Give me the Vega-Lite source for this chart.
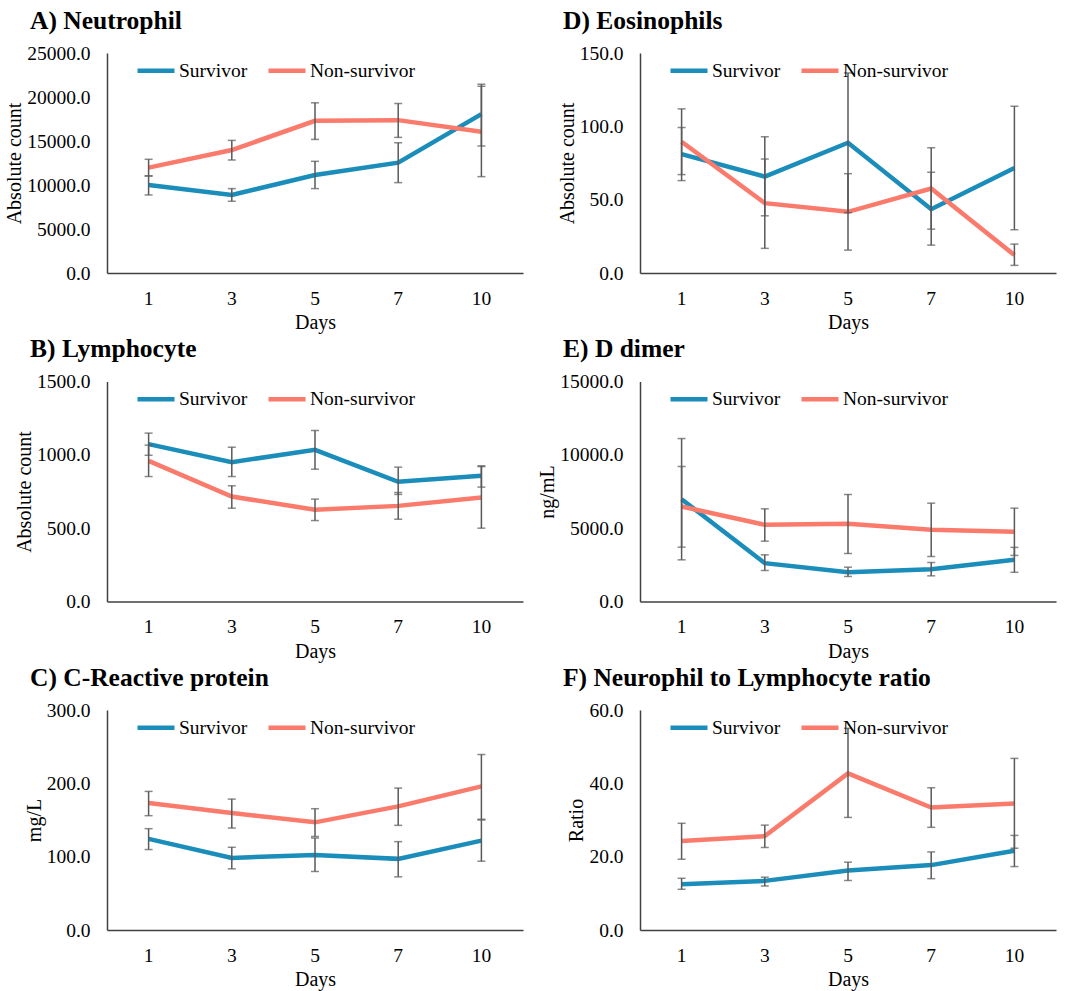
{
  "$schema": "https://vega.github.io/schema/vega-lite/v6.json",
  "padding": {"left": 4, "top": 8, "right": 5, "bottom": 5},
  "bounds": "flush",
  "spacing": {"row": 108.5, "column": 117},
  "columns": 2,
  "resolve": {"scale": {"color": "independent"}, "legend": {"color": "independent"}},
  "config": {
    "font": "Liberation Serif",
    "view": {"stroke": null},
    "style": {"guide-label": {"font": "Liberation Serif", "fontSize": 19.5, "fill": "#000000"}, "guide-title": {"font": "Liberation Serif", "fontSize": 20, "fontWeight": "normal", "fill": "#000000"}},
    "axis": {"grid": false, "ticks": false, "domainColor": "#404040", "domainWidth": 1.5, "labelFont": "Liberation Serif", "labelFontSize": 19.5, "labelColor": "#000000", "titleFont": "Liberation Serif", "titleFontSize": 20, "titleFontWeight": "normal", "titleColor": "#000000"},
    "axisX": {"labelAngle": 0, "labelPadding": 16, "titlePadding": 5, "labelFont": "Liberation Serif", "titleFont": "Liberation Serif"},
    "axisY": {"labelPadding": 17, "titlePadding": 2, "format": ".1f", "labelFont": "Liberation Serif", "titleFont": "Liberation Serif"},
    "title": {"font": "Liberation Serif", "fontSize": 25.5, "fontWeight": "bold", "anchor": "start", "frame": "group", "dx": -77, "color": "#000000", "offset": 9},
    "legend": {"orient": "none", "legendX": 28, "legendY": -3.5, "direction": "horizontal", "title": null, "symbolType": "stroke", "symbolSize": 1369, "symbolStrokeWidth": 4.5, "labelFont": "Liberation Serif", "labelFontSize": 19.5, "labelColor": "#000000", "labelOffset": 2, "columnPadding": 11, "padding": 0}
  },
  "datasets": {
    "A": [
      {"day": "1", "group": "Survivor", "mean": 10000, "lo": 8870, "hi": 11030},
      {"day": "3", "group": "Survivor", "mean": 8870, "lo": 8150, "hi": 9590},
      {"day": "5", "group": "Survivor", "mean": 11140, "lo": 9590, "hi": 12690},
      {"day": "7", "group": "Survivor", "mean": 12540, "lo": 10270, "hi": 14800},
      {"day": "10", "group": "Survivor", "mean": 18050, "lo": 14430, "hi": 21450},
      {"day": "1", "group": "Non-survivor", "mean": 11970, "lo": 11030, "hi": 12920},
      {"day": "3", "group": "Non-survivor", "mean": 13970, "lo": 12840, "hi": 15070},
      {"day": "5", "group": "Non-survivor", "mean": 17300, "lo": 15180, "hi": 19340},
      {"day": "7", "group": "Non-survivor", "mean": 17370, "lo": 15410, "hi": 19260},
      {"day": "10", "group": "Non-survivor", "mean": 16050, "lo": 10950, "hi": 21220}
    ],
    "D": [
      {"day": "1", "group": "Survivor", "mean": 81.1, "lo": 63.0, "hi": 99.2},
      {"day": "3", "group": "Survivor", "mean": 65.7, "lo": 39.0, "hi": 92.9},
      {"day": "5", "group": "Survivor", "mean": 88.8, "lo": 41.2, "hi": 136.4},
      {"day": "7", "group": "Survivor", "mean": 43.5, "lo": 19.0, "hi": 68.7},
      {"day": "10", "group": "Survivor", "mean": 71.6, "lo": 29.5, "hi": 113.7},
      {"day": "1", "group": "Non-survivor", "mean": 89.5, "lo": 67.1, "hi": 111.9},
      {"day": "3", "group": "Non-survivor", "mean": 47.6, "lo": 16.8, "hi": 77.7},
      {"day": "5", "group": "Non-survivor", "mean": 41.7, "lo": 15.6, "hi": 67.7},
      {"day": "7", "group": "Non-survivor", "mean": 57.6, "lo": 29.9, "hi": 85.4},
      {"day": "10", "group": "Non-survivor", "mean": 12.2, "lo": 5.2, "hi": 19.7}
    ],
    "B": [
      {"day": "1", "group": "Survivor", "mean": 1073, "lo": 997, "hi": 1148},
      {"day": "3", "group": "Survivor", "mean": 950, "lo": 852, "hi": 1052},
      {"day": "5", "group": "Survivor", "mean": 1034, "lo": 902, "hi": 1166},
      {"day": "7", "group": "Survivor", "mean": 816, "lo": 730, "hi": 916},
      {"day": "10", "group": "Survivor", "mean": 857, "lo": 780, "hi": 925},
      {"day": "1", "group": "Non-survivor", "mean": 959, "lo": 852, "hi": 1066},
      {"day": "3", "group": "Non-survivor", "mean": 716, "lo": 636, "hi": 789},
      {"day": "5", "group": "Non-survivor", "mean": 625, "lo": 552, "hi": 698},
      {"day": "7", "group": "Non-survivor", "mean": 652, "lo": 561, "hi": 743},
      {"day": "10", "group": "Non-survivor", "mean": 709, "lo": 500, "hi": 920}
    ],
    "E": [
      {"day": "1", "group": "Survivor", "mean": 6977, "lo": 2840, "hi": 11110},
      {"day": "3", "group": "Survivor", "mean": 2614, "lo": 2114, "hi": 3182},
      {"day": "5", "group": "Survivor", "mean": 2000, "lo": 1705, "hi": 2341},
      {"day": "7", "group": "Survivor", "mean": 2205, "lo": 1750, "hi": 2659},
      {"day": "10", "group": "Survivor", "mean": 2841, "lo": 1990, "hi": 3690},
      {"day": "1", "group": "Non-survivor", "mean": 6477, "lo": 3705, "hi": 9205},
      {"day": "3", "group": "Non-survivor", "mean": 5227, "lo": 4114, "hi": 6318},
      {"day": "5", "group": "Non-survivor", "mean": 5295, "lo": 3273, "hi": 7295},
      {"day": "7", "group": "Non-survivor", "mean": 4886, "lo": 3068, "hi": 6705},
      {"day": "10", "group": "Non-survivor", "mean": 4750, "lo": 3140, "hi": 6364}
    ],
    "C": [
      {"day": "1", "group": "Survivor", "mean": 124.2, "lo": 109.7, "hi": 138.2},
      {"day": "3", "group": "Survivor", "mean": 98.3, "lo": 83.4, "hi": 112.8},
      {"day": "5", "group": "Survivor", "mean": 102.4, "lo": 79.8, "hi": 125.4},
      {"day": "7", "group": "Survivor", "mean": 97.0, "lo": 72.5, "hi": 120.5},
      {"day": "10", "group": "Survivor", "mean": 121.9, "lo": 93.8, "hi": 150.0},
      {"day": "1", "group": "Non-survivor", "mean": 173.1, "lo": 155.9, "hi": 189.0},
      {"day": "3", "group": "Non-survivor", "mean": 159.5, "lo": 139.0, "hi": 178.5},
      {"day": "5", "group": "Non-survivor", "mean": 146.8, "lo": 127.5, "hi": 165.4},
      {"day": "7", "group": "Non-survivor", "mean": 168.6, "lo": 142.7, "hi": 193.5},
      {"day": "10", "group": "Non-survivor", "mean": 195.8, "lo": 151.0, "hi": 239.3}
    ],
    "F": [
      {"day": "1", "group": "Survivor", "mean": 12.5, "lo": 11.1, "hi": 14.1},
      {"day": "3", "group": "Survivor", "mean": 13.4, "lo": 12.0, "hi": 14.4},
      {"day": "5", "group": "Survivor", "mean": 16.2, "lo": 13.5, "hi": 18.5},
      {"day": "7", "group": "Survivor", "mean": 17.7, "lo": 14.0, "hi": 21.3},
      {"day": "10", "group": "Survivor", "mean": 21.6, "lo": 17.3, "hi": 25.8},
      {"day": "1", "group": "Non-survivor", "mean": 24.3, "lo": 19.3, "hi": 29.1},
      {"day": "3", "group": "Non-survivor", "mean": 25.6, "lo": 22.5, "hi": 28.6},
      {"day": "5", "group": "Non-survivor", "mean": 42.7, "lo": 30.7, "hi": 55.0},
      {"day": "7", "group": "Non-survivor", "mean": 33.4, "lo": 28.0, "hi": 38.8},
      {"day": "10", "group": "Non-survivor", "mean": 34.5, "lo": 22.3, "hi": 46.8}
    ]
  },
  "concat": [
    {
      "width": 416, "height": 220,
      "title": "A) Neutrophil",
      "data": {"name": "A"},
      "encoding": {"x": {"field": "day", "type": "ordinal", "sort": ["1", "3", "5", "7", "10"], "title": "Days"}},
      "layer": [
        {"mark": {"type": "line", "strokeWidth": 4.5}, "encoding": {"y": {"field": "mean", "type": "quantitative", "title": "Absolute count", "scale": {"domain": [0, 25000], "nice": false}, "axis": {"values": [0, 5000, 10000, 15000, 20000, 25000]}}, "color": {"field": "group", "type": "nominal", "sort": ["Survivor", "Non-survivor"], "scale": {"domain": ["Survivor", "Non-survivor"], "range": ["#1B8DBA", "#FA7B6C"]}}}},
        {"mark": {"type": "rule", "color": "#595959", "strokeWidth": 1.5}, "encoding": {"y": {"field": "lo", "type": "quantitative"}, "y2": {"field": "hi"}}},
        {"mark": {"type": "tick", "color": "#595959", "size": 8, "thickness": 1.5}, "encoding": {"y": {"field": "lo", "type": "quantitative"}}},
        {"mark": {"type": "tick", "color": "#595959", "size": 8, "thickness": 1.5}, "encoding": {"y": {"field": "hi", "type": "quantitative"}}}
      ]
    },
    {
      "width": 416, "height": 220,
      "title": "D) Eosinophils",
      "data": {"name": "D"},
      "encoding": {"x": {"field": "day", "type": "ordinal", "sort": ["1", "3", "5", "7", "10"], "title": "Days"}},
      "layer": [
        {"mark": {"type": "line", "strokeWidth": 4.5}, "encoding": {"y": {"field": "mean", "type": "quantitative", "title": "Absolute count", "scale": {"domain": [0, 150], "nice": false}, "axis": {"values": [0, 50, 100, 150]}}, "color": {"field": "group", "type": "nominal", "sort": ["Survivor", "Non-survivor"], "scale": {"domain": ["Survivor", "Non-survivor"], "range": ["#1B8DBA", "#FA7B6C"]}}}},
        {"mark": {"type": "rule", "color": "#595959", "strokeWidth": 1.5}, "encoding": {"y": {"field": "lo", "type": "quantitative"}, "y2": {"field": "hi"}}},
        {"mark": {"type": "tick", "color": "#595959", "size": 8, "thickness": 1.5}, "encoding": {"y": {"field": "lo", "type": "quantitative"}}},
        {"mark": {"type": "tick", "color": "#595959", "size": 8, "thickness": 1.5}, "encoding": {"y": {"field": "hi", "type": "quantitative"}}}
      ]
    },
    {
      "width": 416, "height": 220,
      "title": "B) Lymphocyte",
      "data": {"name": "B"},
      "encoding": {"x": {"field": "day", "type": "ordinal", "sort": ["1", "3", "5", "7", "10"], "title": "Days"}},
      "layer": [
        {"mark": {"type": "line", "strokeWidth": 4.5}, "encoding": {"y": {"field": "mean", "type": "quantitative", "title": "Absolute count", "scale": {"domain": [0, 1500], "nice": false}, "axis": {"values": [0, 500, 1000, 1500]}}, "color": {"field": "group", "type": "nominal", "sort": ["Survivor", "Non-survivor"], "scale": {"domain": ["Survivor", "Non-survivor"], "range": ["#1B8DBA", "#FA7B6C"]}}}},
        {"mark": {"type": "rule", "color": "#595959", "strokeWidth": 1.5}, "encoding": {"y": {"field": "lo", "type": "quantitative"}, "y2": {"field": "hi"}}},
        {"mark": {"type": "tick", "color": "#595959", "size": 8, "thickness": 1.5}, "encoding": {"y": {"field": "lo", "type": "quantitative"}}},
        {"mark": {"type": "tick", "color": "#595959", "size": 8, "thickness": 1.5}, "encoding": {"y": {"field": "hi", "type": "quantitative"}}}
      ]
    },
    {
      "width": 416, "height": 220,
      "title": "E) D dimer",
      "data": {"name": "E"},
      "encoding": {"x": {"field": "day", "type": "ordinal", "sort": ["1", "3", "5", "7", "10"], "title": "Days"}},
      "layer": [
        {"mark": {"type": "line", "strokeWidth": 4.5}, "encoding": {"y": {"field": "mean", "type": "quantitative", "title": "ng/mL", "scale": {"domain": [0, 15000], "nice": false}, "axis": {"values": [0, 5000, 10000, 15000]}}, "color": {"field": "group", "type": "nominal", "sort": ["Survivor", "Non-survivor"], "scale": {"domain": ["Survivor", "Non-survivor"], "range": ["#1B8DBA", "#FA7B6C"]}}}},
        {"mark": {"type": "rule", "color": "#595959", "strokeWidth": 1.5}, "encoding": {"y": {"field": "lo", "type": "quantitative"}, "y2": {"field": "hi"}}},
        {"mark": {"type": "tick", "color": "#595959", "size": 8, "thickness": 1.5}, "encoding": {"y": {"field": "lo", "type": "quantitative"}}},
        {"mark": {"type": "tick", "color": "#595959", "size": 8, "thickness": 1.5}, "encoding": {"y": {"field": "hi", "type": "quantitative"}}}
      ]
    },
    {
      "width": 416, "height": 220,
      "title": "C) C-Reactive protein",
      "data": {"name": "C"},
      "encoding": {"x": {"field": "day", "type": "ordinal", "sort": ["1", "3", "5", "7", "10"], "title": "Days"}},
      "layer": [
        {"mark": {"type": "line", "strokeWidth": 4.5}, "encoding": {"y": {"field": "mean", "type": "quantitative", "title": "mg/L", "scale": {"domain": [0, 300], "nice": false}, "axis": {"values": [0, 100, 200, 300]}}, "color": {"field": "group", "type": "nominal", "sort": ["Survivor", "Non-survivor"], "scale": {"domain": ["Survivor", "Non-survivor"], "range": ["#1B8DBA", "#FA7B6C"]}}}},
        {"mark": {"type": "rule", "color": "#595959", "strokeWidth": 1.5}, "encoding": {"y": {"field": "lo", "type": "quantitative"}, "y2": {"field": "hi"}}},
        {"mark": {"type": "tick", "color": "#595959", "size": 8, "thickness": 1.5}, "encoding": {"y": {"field": "lo", "type": "quantitative"}}},
        {"mark": {"type": "tick", "color": "#595959", "size": 8, "thickness": 1.5}, "encoding": {"y": {"field": "hi", "type": "quantitative"}}}
      ]
    },
    {
      "width": 416, "height": 220,
      "title": "F) Neurophil to Lymphocyte ratio",
      "data": {"name": "F"},
      "encoding": {"x": {"field": "day", "type": "ordinal", "sort": ["1", "3", "5", "7", "10"], "title": "Days"}},
      "layer": [
        {"mark": {"type": "line", "strokeWidth": 4.5}, "encoding": {"y": {"field": "mean", "type": "quantitative", "title": "Ratio", "scale": {"domain": [0, 60], "nice": false}, "axis": {"values": [0, 20, 40, 60]}}, "color": {"field": "group", "type": "nominal", "sort": ["Survivor", "Non-survivor"], "scale": {"domain": ["Survivor", "Non-survivor"], "range": ["#1B8DBA", "#FA7B6C"]}}}},
        {"mark": {"type": "rule", "color": "#595959", "strokeWidth": 1.5}, "encoding": {"y": {"field": "lo", "type": "quantitative"}, "y2": {"field": "hi"}}},
        {"mark": {"type": "tick", "color": "#595959", "size": 8, "thickness": 1.5}, "encoding": {"y": {"field": "lo", "type": "quantitative"}}},
        {"mark": {"type": "tick", "color": "#595959", "size": 8, "thickness": 1.5}, "encoding": {"y": {"field": "hi", "type": "quantitative"}}}
      ]
    }
  ]
}
